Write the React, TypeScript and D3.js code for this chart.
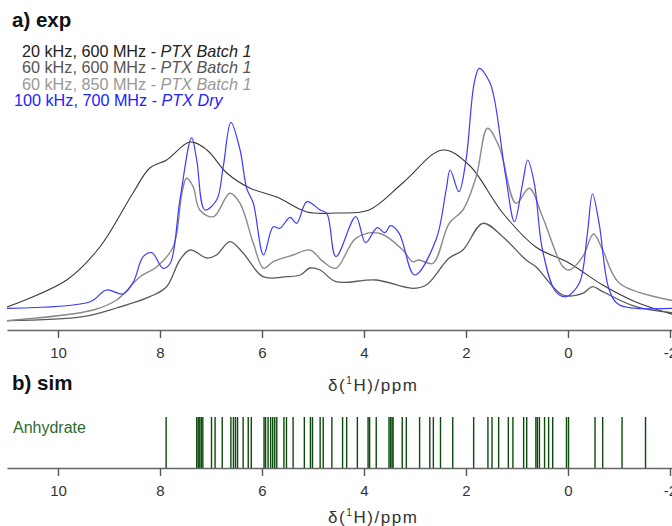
import React, { useEffect, useRef } from "react";
import * as d3 from "d3";

// ppm positions of sampled points and intensities for each experimental spectrum
const broadPpm = [11.0, 9.83, 9.18, 8.53, 8.2, 7.87, 7.41, 7.08, 6.69, 6.24, 5.71, 5.12, 4.55, 3.9, 3.24, 2.46, 1.94, 1.28, 0.63, -0.02, -0.68, -1.33, -2.1];
const broadVal = [15, 42, 75, 129, 154, 162, 180, 172, 149, 134, 125, 110, 109, 112, 139, 172, 157, 109, 75, 59, 37, 20, 7];

const darkPpm = [11.0, 9.51, 8.85, 8.2, 7.87, 7.61, 7.41, 7.08, 6.89, 6.63, 6.37, 5.98, 5.52, 5.25, 5.06, 4.86, 4.55, 3.76, 3.05, 2.78, 2.33, 2.06, 1.67, 1.28, 0.82, 0.63, 0.1, -0.29, -0.48, -0.68, -1.33, -2.1];
const darkVal = [1.3, 5.3, 14, 25.3, 35.3, 62, 72, 64, 67, 80.3, 69, 45.3, 45.3, 47, 54, 52, 40.3, 42, 33.7, 37, 64, 72, 98.7, 85.3, 62, 55.3, 27, 28.7, 35.3, 30.3, 15.3, 9];

const lightPpm = [11.0, 9.31, 8.85, 8.39, 8.06, 7.74, 7.57, 7.48, 7.35, 7.22, 6.95, 6.63, 6.43, 6.17, 5.97, 5.78, 5.39, 5.06, 4.8, 4.55, 4.16, 3.7, 3.24, 3.05, 2.92, 2.65, 2.33, 2.06, 1.8, 1.58, 1.35, 1.02, 0.76, 0.5, 0.1, -0.03, -0.29, -0.5, -0.68, -1.01, -2.1];
const lightVal = [1.3, 12, 22, 45.3, 55.3, 75.3, 128.7, 143.7, 135.3, 112, 105.3, 128.7, 118.7, 78.7, 53.7, 60.3, 67, 72, 60.3, 53.7, 83.7, 88.7, 72, 60.3, 62, 58.7, 98.7, 112, 145.3, 193.7, 175.3, 118.7, 133.7, 105.3, 55.3, 52, 65.3, 88, 72, 38.7, 21];

const bluePpm = [11.0, 9.37, 9.05, 8.72, 8.52, 8.33, 8.16, 7.94, 7.8, 7.61, 7.38, 7.28, 7.12, 6.89, 6.76, 6.61, 6.43, 6.3, 6.17, 5.97, 5.78, 5.65, 5.45, 5.32, 5.12, 4.86, 4.73, 4.55, 4.16, 3.97, 3.74, 3.59, 3.48, 3.31, 3.01, 2.59, 2.39, 2.31, 2.14, 2.0, 1.84, 1.74, 1.54, 1.44, 1.22, 1.05, 0.89, 0.79, 0.66, 0.5, 0.24, 0.04, -0.22, -0.38, -0.48, -0.61, -0.81, -1.01, -2.1];
const blueVal = [13.7, 20.3, 32, 28, 40.3, 65.3, 69.3, 53.7, 58.7, 122, 184.3, 162, 112, 122, 155.3, 199.7, 172, 133.7, 118.7, 67, 95.3, 93.7, 104.7, 98.7, 120.3, 112, 108.7, 65.3, 105.3, 79.3, 94.3, 89.3, 96.3, 88.7, 47, 82, 132, 152, 130.3, 162, 238.7, 253.7, 240.3, 222, 145.3, 100.3, 138.7, 162, 138.7, 72, 30.3, 25.3, 38.7, 88.7, 128, 98.7, 32, 17, 13.7];

// simulated chemical shifts (Anhydrate)
const stickPpm = [7.88, 7.28, 7.25, 7.22, 7.19, 7.16, 6.99, 6.92, 6.78, 6.61, 6.56, 6.52, 6.48, 6.37, 6.27, 6.21, 5.96, 5.93, 5.88, 5.83, 5.79, 5.75, 5.71, 5.57, 5.52, 5.39, 5.17, 5.05, 5.01, 4.86, 4.8, 4.63, 4.42, 4.34, 4.13, 3.92, 3.89, 3.76, 3.51, 3.48, 3.45, 3.43, 3.25, 3.17, 2.91, 2.71, 2.64, 2.5, 2.26, 1.85, 1.57, 1.49, 1.36, 1.17, 1.08, 0.87, 0.81, 0.63, 0.6, 0.56, 0.46, 0.38, 0.3, 0.03, -0.01, -0.53, -0.68, -1.06, -1.52];

const tickValues = [10, 8, 6, 4, 2, 0, -2];
const legendLabels = ["20 kHz, 600 MHz - ", "60 kHz, 600 MHz - ", "60 kHz, 850 MHz - ", "100 kHz, 700 MHz - "];
const legendItalic = ["PTX Batch 1", "PTX Batch 1", "PTX Batch 1", "PTX Dry"];

const W = 672;
const H = 526;
const FONT = "'Liberation Sans', Arial, sans-serif";

function AxisTitle({ y }: { y: number }) {
  return (
    <text x={328} y={y} fontSize={17} fill="#333" textLength={89} lengthAdjust="spacing">
      δ(<tspan fontSize={10} dy={-7}>1</tspan><tspan dy={7}>H)/ppm</tspan>
    </text>
  );
}

export default function App() {
  const topAxisRef = useRef<SVGGElement>(null);
  const botAxisRef = useRef<SVGGElement>(null);

  const x = d3.scaleLinear().domain([11, -2.1]).range([7, 7 + 13.1 * 51]);
  const y = d3.scaleLinear().domain([0, 260]).range([322, 62]);

  const line = d3
    .line<[number, number]>()
    .x((d) => x(d[0]))
    .y((d) => y(d[1]))
    .curve(d3.curveCatmullRom.alpha(0.5));

  const series = [
    { ppm: broadPpm, val: broadVal, color: "#3a3a3a", w: 1.1 },
    { ppm: darkPpm, val: darkVal, color: "#5a5a5a", w: 1.3 },
    { ppm: lightPpm, val: lightVal, color: "#8a8a8a", w: 1.4 },
    { ppm: bluePpm, val: blueVal, color: "#3b3bff", w: 1.2 },
  ];

  useEffect(() => {
    const fmt = (d: d3.NumberValue) => String(d);
    [topAxisRef.current, botAxisRef.current].forEach((el) => {
      if (!el) return;
      const g = d3.select(el);
      g.selectAll("*").remove();
      g.call(d3.axisBottom(x).tickValues(tickValues).tickSize(8).tickSizeOuter(0).tickPadding(9.5).tickFormat(fmt));
      g.select(".domain").attr("stroke", "#666").attr("stroke-width", 1.6);
      g.selectAll(".tick line").attr("stroke", "#555").attr("stroke-width", 1.4);
      g.selectAll(".tick text").attr("fill", "#333").attr("font-size", 15).attr("font-family", FONT);
    });
  }, []);

  const legendColors = ["#222", "#555", "#999", "#2323ff"];
  const legendX = [22, 22, 22, 14];

  return (
    <svg width={W} height={H} style={{ position: "absolute", left: 0, top: 0 }} fontFamily={FONT}>
      <rect width={W} height={H} fill="#fff" />
      <text x={12} y={27} fontSize={20.5} fontWeight="bold" fill="#111">a) exp</text>
      {legendLabels.map((l, i) => (
        <text key={i} x={legendX[i]} y={57 + i * 16.3} fontSize={16.2} fill={legendColors[i]}>
          {l}
          <tspan fontStyle="italic">{legendItalic[i]}</tspan>
        </text>
      ))}
      {series.map((s, i) => (
        <path
          key={i}
          d={line(s.ppm.map((p, j) => [p, s.val[j]] as [number, number])) || ""}
          fill="none"
          stroke={s.color}
          strokeWidth={s.w}
        />
      ))}
      <g ref={topAxisRef} transform="translate(0,330)" />
      <AxisTitle y={391} />

      <text x={12} y={390} fontSize={20.5} fontWeight="bold" fill="#111">b) sim</text>
      <text x={13} y={433} fontSize={16} fill="#2d6a2d">Anhydrate</text>
      {stickPpm.map((p, i) => (
        <line key={i} x1={x(p)} x2={x(p)} y1={417} y2={468} stroke="#0b4a0b" strokeWidth={1.4} />
      ))}
      <g ref={botAxisRef} transform="translate(0,468)" />
      <AxisTitle y={523} />
    </svg>
  );
}
